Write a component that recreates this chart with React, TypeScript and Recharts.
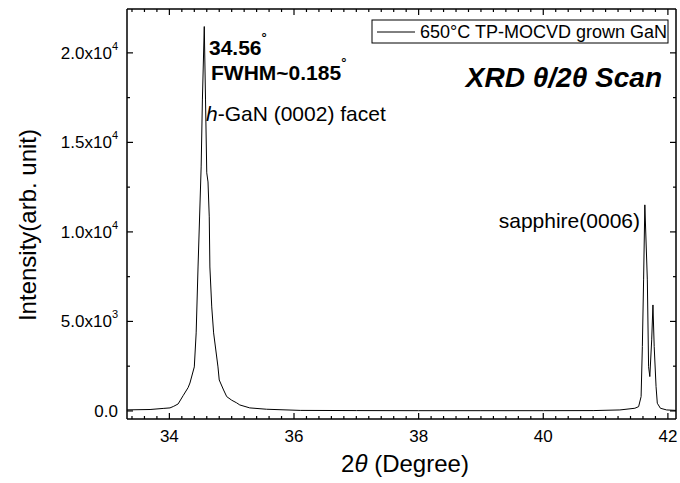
import { ComposedChart, Line, Scatter, XAxis, YAxis, ReferenceLine } from 'recharts'

// 2θ positions (degree) and intensity (arb. unit)
const twoTheta = [
  33.32, 33.69, 33.9, 34.01, 34.07, 34.14, 34.22, 34.3, 34.33, 34.4, 34.43, 34.46, 34.51, 34.53, 34.56,
  34.58, 34.6, 34.62, 34.64, 34.65, 34.68, 34.71, 34.78, 34.8, 34.87, 34.92, 35.0, 35.08, 35.13, 35.29,
  35.56, 36.1, 37.0, 38.0, 39.0, 40.0, 40.8, 41.23, 41.47, 41.53, 41.57, 41.59, 41.61, 41.63,
  41.67, 41.69, 41.71, 41.74, 41.76, 41.78, 41.81, 41.83, 41.88, 41.98, 42.13,
]
const intensity = [
  60, 80, 140, 170, 260, 390, 850, 1300, 1560, 2460, 4360, 8040, 13630, 17370, 21470,
  17370, 13300, 12790, 10840, 8040, 5810, 4360, 2460, 1730, 1170, 800, 600, 450, 335, 170,
  95, 30, 20, 15, 15, 15, 20, 56, 150, 240, 800, 3590, 7320, 11510,
  7320, 2470, 1920, 3970, 5920, 3590, 1360, 430, 150, 56, 30,
]

const xDomain = [33.32, 42.13]
const yDomain = [-450, 22450]
const xMajor = [34, 36, 38, 40, 42]
const xMinor = Array.from({ length: 44 }, (_, i) => +(33.4 + i * 0.2).toFixed(1)).filter((v) => !xMajor.includes(v))
const yMajor = [0, 5000, 10000, 15000, 20000]
const yMinor = [2500, 7500, 12500, 17500]
const yMant = ['0.0', '5.0', '1.0', '1.5', '2.0']
const yExp = ['', '3', '4', '4', '4']

const data = twoTheta.map((x, i) => ({ x, y: intensity[i] }))

// inward tick marks: minor ones at the bottom/left, all of them on the top/right
const bottomMarks = xMinor.map((v) => ({ x: v, y: yDomain[0], len: 3 }))
const topMarks = [...xMajor, ...xMinor].map((v) => ({ x: v, y: yDomain[1], len: xMajor.includes(v) ? 6 : 3 }))
const leftMarks = yMinor.map((v) => ({ x: xDomain[0], y: v, len: 3 }))
const rightMarks = [...yMajor, ...yMinor].map((v) => ({ x: xDomain[1], y: v, len: yMajor.includes(v) ? 6 : 3 }))

const W = 680
const H = 483
const TOP = 9
const BOTTOM = 419
const LEFT = 127
const RIGHT = 676
const FONT = '"Liberation Sans", Arial, sans-serif'

const upMark = (p: any) => <path d={`M${p.cx},${p.cy}v${-p.payload.len}`} stroke="#000" strokeWidth={1.2} />
const downMark = (p: any) => <path d={`M${p.cx},${p.cy}v${p.payload.len}`} stroke="#000" strokeWidth={1.2} />
const rightwardMark = (p: any) => <path d={`M${p.cx},${p.cy}h${p.payload.len}`} stroke="#000" strokeWidth={1.2} />
const leftwardMark = (p: any) => <path d={`M${p.cx},${p.cy}h${-p.payload.len}`} stroke="#000" strokeWidth={1.2} />

const bottomLabel = (p: any) => (
  <text x={p.x} y={442} textAnchor="middle" fontSize={17} fontFamily={FONT} fill="#000">
    {p.payload.value}
  </text>
)

const leftLabel = (p: any) => {
  const i = yMajor.indexOf(p.payload.value)
  return (
    <text x={118} y={Number(p.y) + 6} textAnchor="end" fontSize={17} fontFamily={FONT} fill="#000">
      {yMant[i]}
      {yExp[i] && (
        <>
          <tspan>x10</tspan>
          <tspan fontSize={11} dy={-9}>{yExp[i]}</tspan>
        </>
      )}
    </text>
  )
}

const axisLine = { stroke: '#000', strokeWidth: 1.5 }
const tickLine = { stroke: '#000', strokeWidth: 1.2 }

export default function App() {
  return (
    <div style={{ position: 'absolute', left: 0, top: 0, width: W, height: H }}>
      <svg width={W} height={H} style={{ position: 'absolute', left: 0, top: 0 }} fontFamily={FONT}>
        <text x={36} y={225} transform="rotate(-90 36 225)" textAnchor="middle" fontSize={24} fill="#000">
          Intensity(arb. unit)
        </text>
        <text x={405} y={472} textAnchor="middle" fontSize={24} fill="#000">
          2<tspan fontStyle="italic">θ</tspan> (Degree)
        </text>
        <rect x={372} y={20} width={296} height={23} fill="#fff" stroke="#000" strokeWidth={1} />
        <line x1={377} x2={415} y1={32} y2={32} stroke="#000" strokeWidth={1} />
        <text x={420} y={38} fontSize={18} fill="#000">650°C TP-MOCVD grown GaN</text>
        <text x={662} y={87} textAnchor="end" fontSize={28} fontWeight="bold" fontStyle="italic" fill="#000">
          XRD θ/2θ Scan
        </text>
        <text x={209} y={55} fontSize={21} fontWeight="bold" fill="#000">
          34.56<tspan fontSize={13} dy={-13}>°</tspan>
        </text>
        <text x={211} y={80} fontSize={21} fontWeight="bold" fill="#000">
          FWHM~0.185<tspan fontSize={13} dy={-13}>°</tspan>
        </text>
        <text x={206} y={121} fontSize={21} fill="#000">
          <tspan fontStyle="italic">h</tspan>-GaN (0002) facet
        </text>
        <text x={640} y={228} textAnchor="end" fontSize={21} fill="#000">
          sapphire(0006)
        </text>
      </svg>
      <div style={{ position: 'absolute', left: 0, top: 0 }}>
        <ComposedChart width={W} height={H} data={data} margin={{ top: TOP, right: W - RIGHT, bottom: H - BOTTOM - 30, left: LEFT - 60 }}>
          <XAxis xAxisId="b" dataKey="x" type="number" domain={xDomain} ticks={xMajor} interval={0}
            height={30} tickSize={-6} tickMargin={12} tickLine={tickLine} tick={bottomLabel} axisLine={axisLine} />
          <YAxis yAxisId="l" type="number" domain={yDomain} ticks={yMajor} interval={0}
            width={60} tickSize={-6} tickMargin={12} tickLine={tickLine} tick={leftLabel} axisLine={axisLine} />
          <ReferenceLine xAxisId="b" yAxisId="l" y={yDomain[1]} stroke="#000" strokeWidth={1.5} ifOverflow="visible" />
          <ReferenceLine xAxisId="b" yAxisId="l" x={xDomain[1]} stroke="#000" strokeWidth={1.5} ifOverflow="visible" />
          <Scatter xAxisId="b" yAxisId="l" data={bottomMarks} dataKey="y" shape={upMark} isAnimationActive={false} />
          <Scatter xAxisId="b" yAxisId="l" data={topMarks} dataKey="y" shape={downMark} isAnimationActive={false} />
          <Scatter xAxisId="b" yAxisId="l" data={leftMarks} dataKey="y" shape={rightwardMark} isAnimationActive={false} />
          <Scatter xAxisId="b" yAxisId="l" data={rightMarks} dataKey="y" shape={leftwardMark} isAnimationActive={false} />
          <Line xAxisId="b" yAxisId="l" type="linear" dataKey="y" stroke="#000" strokeWidth={1}
            dot={false} isAnimationActive={false} />
        </ComposedChart>
      </div>
    </div>
  )
}
